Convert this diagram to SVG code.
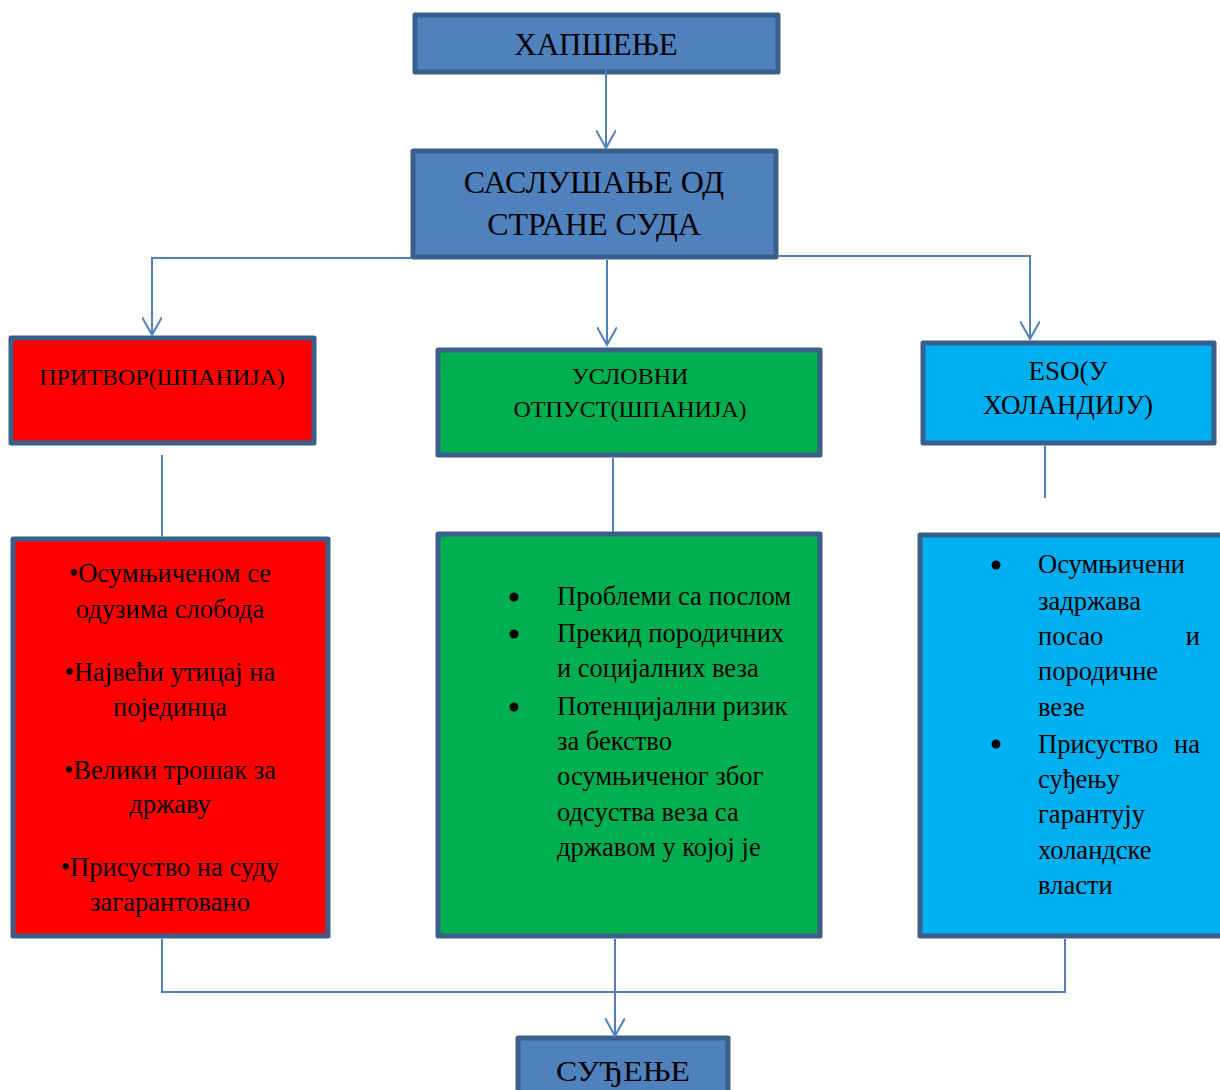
<svg xmlns="http://www.w3.org/2000/svg" width="1220" height="1090" viewBox="0 0 1220 1090">
<style>
.box{stroke:#3A5F8B;stroke-width:5;stroke-linejoin:round}
.blue{fill:#4F81BD}.red{fill:#FF0000}.green{fill:#00B050}.cyan{fill:#00B0F0}
text{font-family:"Liberation Serif","Times New Roman",serif;fill:#000}
.c{text-anchor:middle}
.conn{fill:none;stroke:#4F81BD;stroke-width:2}
</style>
<defs>
<marker id="arr" markerWidth="20" markerHeight="20" refX="18" refY="10" orient="auto" markerUnits="userSpaceOnUse" viewBox="0 0 20 20">
<path d="M0,0 L18,10 L0,20" fill="none" stroke="#4F81BD" stroke-width="2"/>
</marker>
</defs>
<g id="n_hapsenje">
<rect class="box blue" x="415" y="15" width="363" height="57"/>
<text class="c" x="596" y="55" font-size="31">ХАПШЕЊЕ</text>
</g>
<g id="n_saslusanje">
<rect class="box blue" x="413" y="151" width="363" height="106"/>
<text class="c" x="594" y="193" font-size="32">САСЛУШАЊЕ ОД</text>
<text class="c" x="594" y="235" font-size="32">СТРАНЕ СУДА</text>
</g>
<g id="n_pritvor">
<rect class="box red" x="11" y="338" width="303" height="105"/>
<text class="c" x="162" y="385" font-size="24">ПРИТВОР(ШПАНИЈА)</text>
</g>
<g id="n_uslovni">
<rect class="box green" x="438" y="350" width="382" height="105"/>
<text class="c" x="630" y="384" font-size="24">УСЛОВНИ</text>
<text class="c" x="630" y="417" font-size="24">ОТПУСТ(ШПАНИЈА)</text>
</g>
<g id="n_eso">
<rect class="box cyan" x="923" y="343" width="291" height="100"/>
<text class="c" x="1068" y="380" font-size="27">ESO(У</text>
<text class="c" x="1068" y="414" font-size="27">ХОЛАНДИЈУ)</text>
</g>
<g id="n_pritvor_list">
<rect class="box red" x="13" y="539" width="315" height="397"/>
<g font-size="26.5">
<text class="c" x="170" y="582">•Осумњиченом се</text>
<text class="c" x="170" y="618">одузима слобода</text>
<text class="c" x="170" y="681">•Највећи утицај на</text>
<text class="c" x="170" y="716">појединца</text>
<text class="c" x="170" y="779">•Велики трошак за</text>
<text class="c" x="170" y="813">државу</text>
<text class="c" x="170" y="876">•Присуство на суду</text>
<text class="c" x="170" y="911">загарантовано</text>
</g>
</g>
<g id="n_uslovni_list">
<rect class="box green" x="438" y="534" width="382" height="402"/>
<g font-size="26.5">
<circle cx="514" cy="597" r="4.5"/>
<circle cx="514" cy="634" r="4.5"/>
<circle cx="514" cy="707" r="4.5"/>
<text x="557" y="605">Проблеми са послом</text>
<text x="557" y="642">Прекид породичних</text>
<text x="557" y="677">и социјалних веза</text>
<text x="557" y="715">Потенцијални ризик</text>
<text x="557" y="750">за бекство</text>
<text x="557" y="785">осумњиченог због</text>
<text x="557" y="821">одсуства веза са</text>
<text x="557" y="856">државом у којој је</text>
</g>
</g>
<g id="n_eso_list">
<rect class="box cyan" x="920" y="535" width="310" height="401"/>
<g font-size="26.5">
<circle cx="996" cy="565" r="4.5"/>
<circle cx="996" cy="744" r="4.5"/>
<text x="1038" y="573">Осумњичени</text>
<text x="1038" y="610">задржава</text>
<text x="1038" y="645">посао</text>
<text x="1200" y="645" text-anchor="end">и</text>
<text x="1038" y="680">породичне</text>
<text x="1038" y="716">везе</text>
<text x="1038" y="753">Присуство</text>
<text x="1200" y="753" text-anchor="end">на</text>
<text x="1038" y="788">суђењу</text>
<text x="1038" y="823">гарантују</text>
<text x="1038" y="859">холандске</text>
<text x="1038" y="894">власти</text>
</g>
</g>
<g id="n_sudjenje">
<rect class="box blue" x="518" y="1038" width="210" height="60"/>
<text class="c" x="623" y="1081" font-size="30" textLength="134" lengthAdjust="spacingAndGlyphs">СУЂЕЊЕ</text>
</g>
<g id="connectors">
<path class="conn" d="M606,55 V148" marker-end="url(#arr)"/>
<path class="conn" d="M412,258 H152 V335" marker-end="url(#arr)"/>
<path class="conn" d="M607,260 V345" marker-end="url(#arr)"/>
<path class="conn" d="M778,256 H1030 V339" marker-end="url(#arr)"/>
<path class="conn" d="M162,455 V537"/>
<path class="conn" d="M613,458 V532"/>
<path class="conn" d="M1045,446 V498"/>
<path class="conn" d="M162,939 V992 H1065 V939"/>
<path class="conn" d="M615,939 V1036" marker-end="url(#arr)"/>
</g>
</svg>
